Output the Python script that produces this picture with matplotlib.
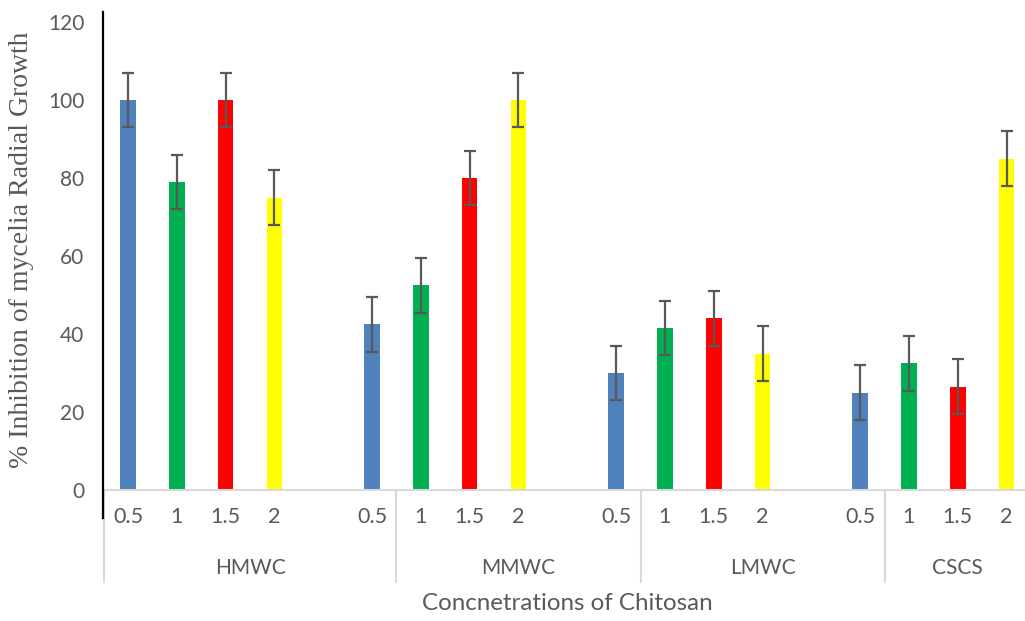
import numpy as np
import matplotlib.pyplot as plt
from matplotlib.lines import Line2D

# -----------------------
# data (one slot per category position, blank slots are gaps)
# -----------------------
conc_labels = ["0.5", "1", "1.5", "2", "", "0.5",
               "1", "1.5", "2", "", "0.5",
               "1", "1.5", "2", "", "0.5",
               "1", "1.5", "2"]
values = [100, 79, 100, 75, np.nan, 42.5,
          52.5, 80, 100, np.nan, 30,
          41.5, 44, 35, np.nan, 25,
          32.5, 26.5, 85]
errors = [7, 7, 7, 7, 0, 7,
          7, 7, 7, 0, 7,
          7, 7, 7, 0, 7,
          7, 7, 7]
groups = ["HMWC", "MMWC", "LMWC", "CSCS"]
group_spans = [(0, 5), (6, 10), (11, 15), (16, 18)]

conc_colors = {"0.5": "#4F81BD", "1": "#00B050", "1.5": "#FF0000", "2": "#FFFF00"}
txt_color = "#595959"
sep_color = "#D9D9D9"

# -----------------------
# figure
# -----------------------
W, H = 1025, 621
fig = plt.figure(figsize=(W / 100, H / 100), dpi=100)
left, right, bottom, top = 103.6, 1031, 490, 22
ax = fig.add_axes([left / W, (H - bottom) / H, (right - left) / W, (bottom - top) / H])

x = np.arange(len(conc_labels))
cols = [conc_colors.get(c, "white") for c in conc_labels]
vals = np.array(values, dtype=float)
mask = ~np.isnan(vals)

ax.bar(x[mask], vals[mask], width=0.32, color=np.array(cols)[mask], zorder=2)
ax.errorbar(x[mask], vals[mask], yerr=np.array(errors)[mask], fmt="none",
            ecolor=txt_color, elinewidth=1.6, capsize=4.5, capthick=1.6, zorder=3)

ax.set_xlim(-0.5, len(conc_labels) - 0.5)
ax.set_ylim(0, 120)
ax.set_yticks(np.arange(0, 121, 20))
ax.set_yticklabels([str(v) for v in range(0, 121, 20)], family="Lato", fontsize=15, color=txt_color)
ax.tick_params(axis="y", length=0, pad=14)

ax.set_xticks(x)
ax.set_xticklabels(conc_labels, family="Lato", fontsize=15.5, color=txt_color)
ax.tick_params(axis="x", length=0, pad=12)

for s in ["top", "right", "left"]:
    ax.spines[s].set_visible(False)
ax.spines["bottom"].set_color(sep_color)
ax.spines["bottom"].set_linewidth(1.5)

# black y-axis line (extends past the plot area like the original)
fig.add_artist(Line2D([103 / W, 103 / W], [(H - 518) / H, (H - 12) / H],
                      color="black", lw=1.6))

# group separators and labels
ytr = ax.get_xaxis_transform()
sep_bottom = -(582 - bottom) / (bottom - top)
bounds = [group_spans[0][0] - 0.5] + [s[1] + 0.5 for s in group_spans]
for b in bounds[:-1]:
    ax.plot([b, b], [0, sep_bottom], transform=ytr, color=sep_color, lw=1.5, clip_on=False)

grp_y = -(568 - bottom) / (bottom - top)
for g, (a, b) in zip(groups, group_spans):
    ax.text((a - 0.5 + b + 0.5) / 2, grp_y, g, transform=ytr, ha="center", va="center",
            family="Lato", fontsize=15, color=txt_color)

ax.text(0.5, -(604 - bottom) / (bottom - top), "Concnetrations of Chitosan",
        transform=ax.transAxes, ha="center", va="center",
        family="Lato", fontsize=17.4, color=txt_color)

fig.text(22 / W, (H - 250) / H, "% Inhibition of mycelia Radial Growth", rotation=90,
         ha="center", va="center", family="Liberation Serif", fontsize=20, color=txt_color)

fig.savefig("out.png", dpi=100)
